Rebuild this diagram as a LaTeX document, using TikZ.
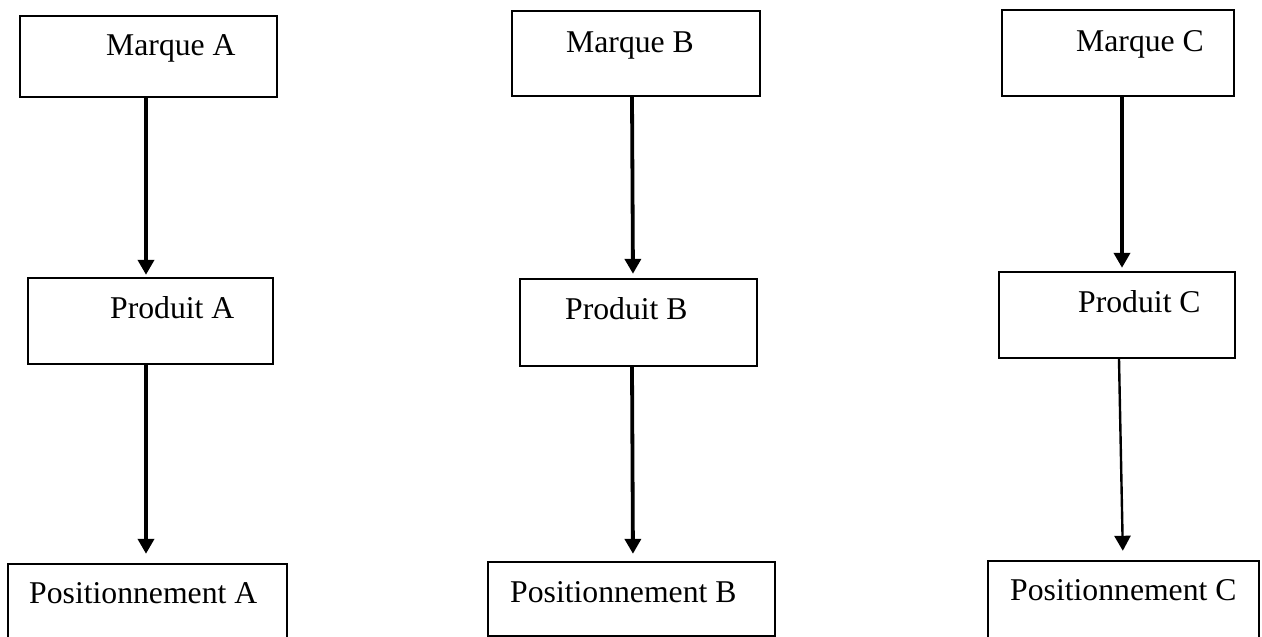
\documentclass[tikz,border=0pt]{standalone}
\usepackage{fontspec}
\setmainfont{Liberation Serif}
\usetikzlibrary{arrows.meta,fit}

\tikzset{
  box/.style={draw=black, line width=2.4pt, inner sep=0pt, fill=white},
  lbl/.style={anchor=base west, inner sep=0pt, font=\fontsize{31.7}{38}\selectfont},
  flow/.style={line width=3.8pt, -{Triangle[length=15pt,width=16pt]}},
  flowthin/.style={line width=2.4pt, -{Triangle[length=15pt,width=16pt]}},
}

\begin{document}
\begin{tikzpicture}[x=1pt, y=-1pt]
  \useasboundingbox (0,0) rectangle (1262,637);
  \clip (0,0) rectangle (1262,637);
  \fill[white] (0,0) rectangle (1262,637);

  % column A
  \node[box, fit={(20,16) (277,97)}] (mA) {};
  \node[box, fit={(28,278) (273,364)}] (pA) {};
  \node[box, fit={(8,564) (287,660)}] (sA) {};
  \node[lbl] (tmA) at (106,55) {Marque A};
  \node[lbl] (tpA) at (110,318) {Produit A};
  \node[lbl] (tsA) at (29,603) {Positionnement A};

  % column B
  \node[box, fit={(512,11) (760,96)}] (mB) {};
  \node[box, fit={(520,279) (757,366)}] (pB) {};
  \node[box, fit={(488,562) (775,636)}] (sB) {};
  \node[lbl] (tmB) at (566,52) {Marque B};
  \node[lbl] (tpB) at (565,319) {Produit B};
  \node[lbl] (tsB) at (510,602) {Positionnement B};

  % column C
  \node[box, fit={(1002,10) (1234,96)}] (mC) {};
  \node[box, fit={(999,272) (1235,358)}] (pC) {};
  \node[box, fit={(988,561) (1259,660)}] (sC) {};
  \node[lbl] (tmC) at (1076,51) {Marque C};
  \node[lbl] (tpC) at (1078,312) {Produit C};
  \node[lbl] (tsC) at (1010,600) {Positionnement C};

  % connectors
  \draw[flow, shorten >=2pt] ([xshift=-2.5pt]mA.south) -- ([xshift=-4.5pt]pA.north);
  \draw[flow, shorten >=9pt] ([xshift=-4.5pt]pA.south) -- ([xshift=-1.5pt]sA.north);
  \draw[flow, shorten >=4pt] ([xshift=-4pt]mB.south) -- ([xshift=-5.5pt]pB.north);
  \draw[flow, shorten >=7pt] ([xshift=-6.5pt]pB.south) -- ([xshift=1.5pt]sB.north);
  \draw[flow, shorten >=3pt] ([xshift=4pt]mC.south) -- ([xshift=5pt]pC.north);
  \draw[flowthin, shorten >=9pt] ([xshift=2pt]pC.south) -- ([xshift=-0.5pt]sC.north);
\end{tikzpicture}
\end{document}
